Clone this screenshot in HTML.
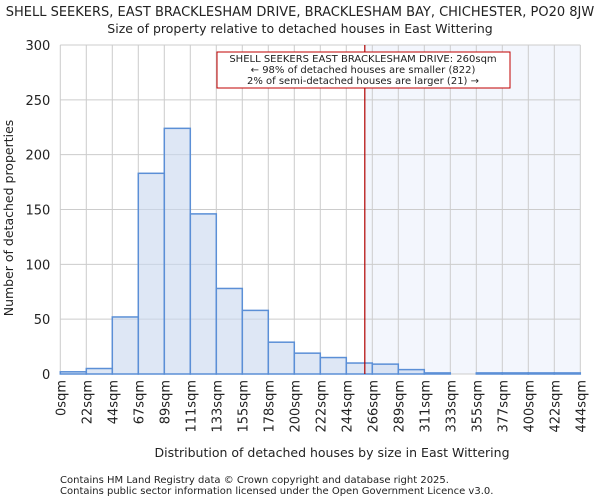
<!DOCTYPE html>
<html><head><meta charset="utf-8"><style>
body{margin:0;background:#fff;font-family:"DejaVu Sans","Liberation Sans",sans-serif;}
svg text{font-family:"DejaVu Sans","Liberation Sans",sans-serif;fill:#222;}
</style></head><body>
<svg id="chart" width="600" height="500">
<text x="300" y="16" text-anchor="middle" font-size="13">SHELL SEEKERS, EAST BRACKLESHAM DRIVE, BRACKLESHAM BAY, CHICHESTER, PO20 8JW</text>
<text x="300" y="33" text-anchor="middle" font-size="12.5">Size of property relative to detached houses in East Wittering</text>
<g id="plot"></g>
<text x="332" y="457" text-anchor="middle" font-size="12.5">Distribution of detached houses by size in East Wittering</text>
<text transform="translate(13,218) rotate(-90)" text-anchor="middle" font-size="12.5">Number of detached properties</text>
<text x="60" y="483" font-size="10" fill="#444">Contains HM Land Registry data © Crown copyright and database right 2025.</text>
<text x="60" y="494" font-size="10" fill="#444">Contains public sector information licensed under the Open Government Licence v3.0.</text>
</svg>
<script>
const categories=["0sqm","22sqm","44sqm","67sqm","89sqm","111sqm","133sqm","155sqm","178sqm","200sqm","222sqm","244sqm","266sqm","289sqm","311sqm","333sqm","355sqm","377sqm","400sqm","422sqm","444sqm"];
const counts=[2,5,52,183,224,146,78,58,29,19,15,10,9,4,1,0,1,1,1,1];
const yTicks=[0,50,100,150,200,250,300];
const markerValue=260;
const binMax=444;
const L=60.3,R=580.3,T=45,B=374;
const NS="http://www.w3.org/2000/svg";
const g=document.getElementById('plot');
const xs=i=>L+(R-L)*i/counts.length;
const xv=v=>L+(R-L)*v/binMax;
const ys=v=>B-(B-T)*v/300;
function mk(t,a){const e=document.createElementNS(NS,t);for(const k in a)e.setAttribute(k,a[k]);g.appendChild(e);return e;}
let sh=mk('rect',{x:xv(markerValue),y:T,width:R-xv(markerValue),height:B-T,fill:'#f3f6fd'});


for(let i=0;i<=counts.length;i++){let l=mk('line',{x1:xs(i),x2:xs(i),y1:T,y2:B,stroke:'#ccc'});

}
yTicks.forEach(v=>{let l=mk('line',{x1:L,x2:R,y1:ys(v),y2:ys(v),stroke:'#ccc'});


let t=mk('text',{x:L-10,y:ys(v)+5,'text-anchor':'end','font-size':'13'});t.textContent=v;

});
counts.forEach((c,i)=>{if(c<=0)return;let r=mk('rect',{x:xs(i),y:ys(c),width:xs(i+1)-xs(i),height:B-ys(c),fill:'rgba(200,215,238,0.6)',stroke:'#5b8fd6','stroke-width':1.5});

});
categories.forEach((c,i)=>{let x=xs(i);let t=mk('text',{transform:`translate(${x+5},${B+6}) rotate(-90)`,'text-anchor':'end','font-size':'13'});t.textContent=c;

});
let ml=mk('line',{x1:xv(markerValue),x2:xv(markerValue),y1:T,y2:B,stroke:'#b00000','stroke-width':1.2});


let bx=mk('rect',{x:217,y:52,width:293,height:36,fill:'#fff',stroke:'#c00000','stroke-width':1});


["SHELL SEEKERS EAST BRACKLESHAM DRIVE: 260sqm","← 98% of detached houses are smaller (822)","2% of semi-detached houses are larger (21) →"].forEach((s,i)=>{let t=mk('text',{x:363,y:62+i*11,'text-anchor':'middle','font-size':'10'});t.textContent=s;

});
</script>
</body></html>
